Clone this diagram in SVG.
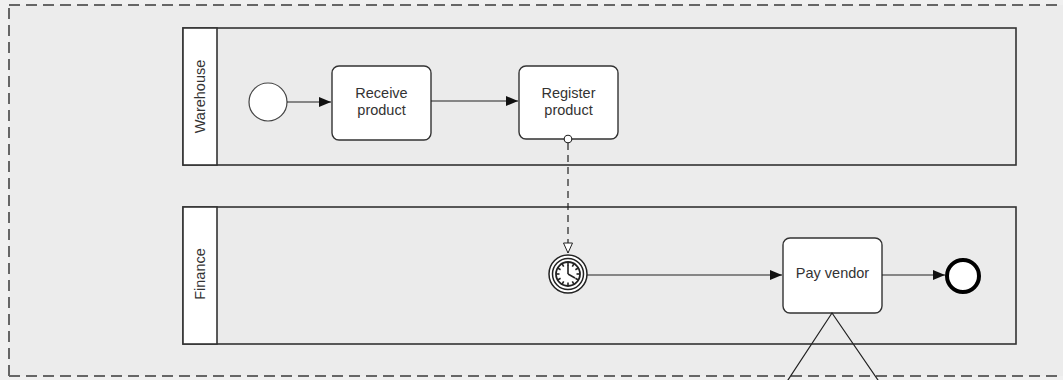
<svg xmlns="http://www.w3.org/2000/svg" width="1063" height="380" viewBox="0 0 1063 380">
<style>
.lbl{font-family:"Liberation Sans",Arial,sans-serif;font-size:14.5px;fill:#333;text-anchor:middle}
.pool{fill:#ebebeb;stroke:#333;stroke-width:1.6}
.strip{fill:#fff;stroke:#333;stroke-width:1.6}
.task{fill:#fff;stroke:#333;stroke-width:1.4}
.flow{stroke:#222;stroke-width:1.2;fill:none}
</style>
<defs>
<marker id="arr" viewBox="0 0 12 10" refX="12" refY="5" markerWidth="12" markerHeight="10" markerUnits="userSpaceOnUse" orient="auto">
<path d="M0,0 L12,5 L0,10 Z" fill="#111"/>
</marker>
<marker id="open" viewBox="0 0 12 10" refX="11" refY="5" markerWidth="12" markerHeight="10" markerUnits="userSpaceOnUse" orient="auto">
<path d="M1,0.5 L11,5 L1,9.5 Z" fill="#fff" stroke="#222" stroke-width="1"/>
</marker>
</defs>
<rect x="0" y="0" width="1063" height="380" fill="#f0f0f0"/>
<rect x="9" y="5" width="1070" height="371" fill="#ececec"/>
<path d="M9,376 L9,5 M9,5 L1063,5 M9,376 L1063,376" stroke="#666" stroke-width="2" stroke-dasharray="11,6" fill="none"/>

<g id="pool-warehouse">
<rect class="pool" x="183" y="28" width="833" height="137"/>
<rect class="strip" x="183" y="28" width="34" height="137"/>
<text class="lbl" transform="translate(205,96.5) rotate(-90)">Warehouse</text>
</g>
<g id="pool-finance">
<rect class="pool" x="183" y="207" width="833" height="137"/>
<rect class="strip" x="183" y="207" width="34" height="137"/>
<text class="lbl" transform="translate(205,274) rotate(-90)">Finance</text>
</g>

<g id="start">
<circle cx="268" cy="102" r="19" fill="#fff" stroke="#444" stroke-width="1.2"/>
</g>
<g id="receive">
<rect class="task" x="332" y="66" width="99" height="74" rx="7"/>
<text class="lbl" x="381.5" y="98">Receive</text>
<text class="lbl" x="381.5" y="115">product</text>
</g>
<g id="register">
<rect class="task" x="519" y="66" width="99" height="73" rx="7"/>
<text class="lbl" x="568.5" y="98">Register</text>
<text class="lbl" x="568.5" y="115">product</text>
</g>
<g id="timer">
<circle cx="568" cy="274" r="19" fill="#fff" stroke="#222" stroke-width="1.5"/>
<circle cx="568" cy="274" r="15.5" fill="#fff" stroke="#222" stroke-width="1.5"/>
<circle cx="568" cy="274" r="12" fill="#fff" stroke="#222" stroke-width="1.8"/>
<g stroke="#222" stroke-width="1.6">
<line x1="568" y1="262" x2="568" y2="265.5"/>
<line x1="568" y1="286" x2="568" y2="282.5"/>
<line x1="556" y1="274" x2="559.5" y2="274"/>
<line x1="580" y1="274" x2="576.5" y2="274"/>
<line x1="574" y1="263.6" x2="572.3" y2="266.6"/>
<line x1="578.4" y1="268" x2="575.4" y2="269.7"/>
<line x1="578.4" y1="280" x2="575.4" y2="278.3"/>
<line x1="574" y1="284.4" x2="572.3" y2="281.4"/>
<line x1="562" y1="284.4" x2="563.7" y2="281.4"/>
<line x1="557.6" y1="280" x2="560.6" y2="278.3"/>
<line x1="557.6" y1="268" x2="560.6" y2="269.7"/>
<line x1="562" y1="263.6" x2="563.7" y2="266.6"/>
<line x1="568" y1="274" x2="568" y2="265"/>
<line x1="568" y1="274" x2="575" y2="278"/>
</g>
</g>
<g id="pay">
<rect class="task" x="783" y="238" width="99" height="75" rx="7"/>
<text class="lbl" x="832.5" y="278">Pay vendor</text>
</g>
<g id="end">
<circle cx="963" cy="276" r="16" fill="#fff" stroke="#000" stroke-width="4"/>
</g>

<g id="connectors">
<line class="flow" x1="287" y1="102" x2="331" y2="102" marker-end="url(#arr)"/>
<line class="flow" x1="431" y1="101" x2="518" y2="101" marker-end="url(#arr)"/>
<line class="flow" x1="587" y1="275" x2="782" y2="275" marker-end="url(#arr)"/>
<line class="flow" x1="882" y1="275" x2="945" y2="275" marker-end="url(#arr)"/>
<line class="flow" x1="568" y1="143" x2="568" y2="253" stroke-dasharray="7,5" marker-end="url(#open)"/>
<circle cx="568" cy="139" r="3.8" fill="#fff" stroke="#222" stroke-width="1.1"/>
<path class="flow" d="M786,383 L832,313 L880,383"/>
</g>
</svg>
